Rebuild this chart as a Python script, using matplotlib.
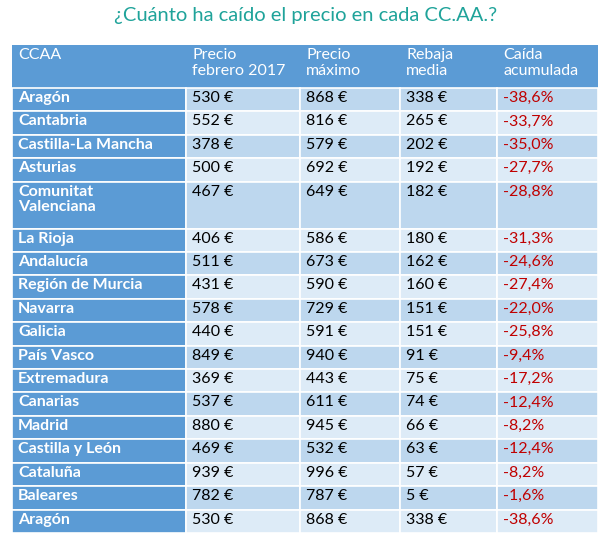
import matplotlib.pyplot as plt
from matplotlib.patches import Rectangle

# === Table data === #
headers = ["CCAA", "Precio\nfebrero 2017", "Precio\nmáximo", "Rebaja\nmedia", "Caída\nacumulada"]
regions = ["Aragón", "Cantabria", "Castilla-La Mancha", "Asturias", "Comunitat\nValenciana",
           "La Rioja", "Andalucía", "Región de Murcia", "Navarra", "Galicia", "País Vasco",
           "Extremadura", "Canarias", "Madrid", "Castilla y León", "Cataluña", "Baleares", "Aragón"]
precio_feb = [530, 552, 378, 500, 467, 406, 511, 431, 578, 440, 849, 369, 537, 880, 469, 939, 782, 530]
precio_max = [868, 816, 579, 692, 649, 586, 673, 590, 729, 591, 940, 443, 611, 945, 532, 996, 787, 868]
rebaja = [338, 265, 202, 192, 182, 180, 162, 160, 151, 151, 91, 75, 74, 66, 63, 57, 5, 338]
caida = [-38.6, -33.7, -35.0, -27.7, -28.8, -31.3, -24.6, -27.4, -22.0, -25.8, -9.4,
         -17.2, -12.4, -8.2, -12.4, -8.2, -1.6, -38.6]

plt.rcParams['font.family'] = ['Lato', 'DejaVu Sans']

fig = plt.figure(figsize=(6.13, 5.48), dpi=100)
ax = fig.add_axes([0, 0, 1, 1])
ax.set_xlim(0, 613)
ax.set_ylim(548, 0)
ax.axis('off')

col_x = [12, 186, 300, 400, 497, 598]
head_top, head_bot = 45, 88
unit = (533 - head_bot) / 19
dark_blue = '#5B9BD5'
row_colors = ['#BDD7EE', '#DDEBF7']

ax.text(306, 16, "¿Cuánto ha caído el precio en cada CC.AA.?", color='#1FA39A',
        fontsize=14.5, ha='center', va='center')

# header
ax.add_patch(Rectangle((col_x[0], head_top), col_x[-1] - col_x[0], head_bot - head_top,
                       facecolor=dark_blue, edgecolor='none'))
for j, h in enumerate(headers):
    ax.text(col_x[j] + 6, head_top + 3, h, color='white', fontsize=11.5,
            ha='left', va='top', linespacing=1.15)

y = head_bot
for i, name in enumerate(regions):
    h = unit * (2 if '\n' in name else 1)
    vals = [f"{precio_feb[i]} €", f"{precio_max[i]} €", f"{rebaja[i]} €",
            f"{caida[i]:.1f}%".replace('.', ',')]
    ax.add_patch(Rectangle((col_x[0], y), col_x[1] - col_x[0], h,
                           facecolor=dark_blue, edgecolor='white', lw=1.2))
    ax.text(col_x[0] + 6, y + 3, name, color='white', fontsize=11.5, fontweight='bold',
            ha='left', va='top', linespacing=1.15)
    for j, v in enumerate(vals):
        x0 = col_x[j + 1]
        ax.add_patch(Rectangle((x0, y), col_x[j + 2] - x0, h,
                               facecolor=row_colors[i % 2], edgecolor='white', lw=1.2))
        ax.text(x0 + 6, y + 3, v, color='#C00000' if j == 3 else 'black',
                fontsize=11.5, ha='left', va='top')
    y += h

fig.savefig('out.png', dpi=100)
